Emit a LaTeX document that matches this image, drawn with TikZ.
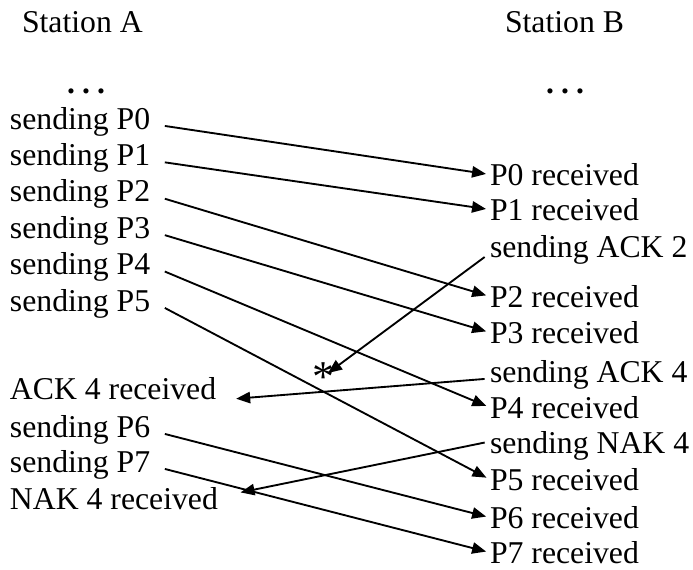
\documentclass[tikz,border=0pt]{standalone}
\usepackage{fontspec}
\setmainfont{Liberation Serif}
\usetikzlibrary{arrows.meta}
\begin{document}
\begin{tikzpicture}[x=0.75pt,y=-0.75pt,
  every node/.style={inner sep=0pt, outer sep=0pt,
    font=\fontsize{23.8pt}{28pt}\selectfont,
    text height=15.7pt, text depth=0pt},
  lbl/.style={anchor=base west},
  dotrow/.style={anchor=base, font=\fontsize{23.8pt}{28pt}\selectfont\bfseries},
  msg/.style={line width=1.4pt, -{Triangle[length=10.5pt,width=8.5pt]},
    shorten >=3pt},
]
\useasboundingbox (0,0) rectangle (693,569);

% column heads
\node[lbl] (sa) at (22,32) {Station A};
\node[lbl] (sb) at (505,32) {Station B};
\node[dotrow] (da) at (86,93) {.\hspace{5.3pt}.\hspace{5.3pt}.};
\node[dotrow] (db) at (565,93) {.\hspace{5.3pt}.\hspace{5.3pt}.};

% station A events
\node[lbl] (s0) at (10,129) {sending P0};
\node[lbl] (s1) at (10,165.4) {sending P1};
\node[lbl] (s2) at (10,201.8) {sending P2};
\node[lbl] (s3) at (10,238.2) {sending P3};
\node[lbl] (s4) at (10,274.6) {sending P4};
\node[lbl] (s5) at (10,311) {sending P5};
\node[lbl] (k4) at (10,399) {ACK 4 received};
\node[lbl] (s6) at (10,437) {sending P6};
\node[lbl] (s7) at (10,472) {sending P7};
\node[lbl] (nk) at (10,509) {NAK 4 received};

% station B events
\node[lbl] (r0) at (490,185) {P0 received};
\node[lbl] (r1) at (490,220) {P1 received};
\node[lbl] (a2) at (490,257) {sending ACK 2};
\node[lbl] (r2) at (490,307) {P2 received};
\node[lbl] (r3) at (490,343) {P3 received};
\node[lbl] (a4) at (490,382) {sending ACK 4};
\node[lbl] (r4) at (490,418) {P4 received};
\node[lbl] (n4) at (490,453) {sending NAK 4};
\node[lbl] (r5) at (490,490) {P5 received};
\node[lbl] (r6) at (490,528) {P6 received};
\node[lbl] (r7) at (490,563) {P7 received};

% lost acknowledgement
\node[lbl, font=\fontsize{33pt}{36pt}\selectfont] (star) at (312,391.5) {*};

% data frames A -> B
\foreach \i in {0,...,7}
  \draw[msg] ([xshift=11pt]s\i.mid east) -- (r\i.west);

% control frames B -> A
\draw[msg, shorten >=0pt] ([xshift=-4pt]a2.base west)
  -- ([xshift=3.75pt,yshift=6pt]star.center);
\draw[msg] ([xshift=-4pt]a4.mid west) -- ([xshift=12pt]k4.base east);
\draw[msg] ([xshift=-4pt]n4.west) -- ([xshift=14pt,yshift=4pt]nk.east);
\end{tikzpicture}
\end{document}
